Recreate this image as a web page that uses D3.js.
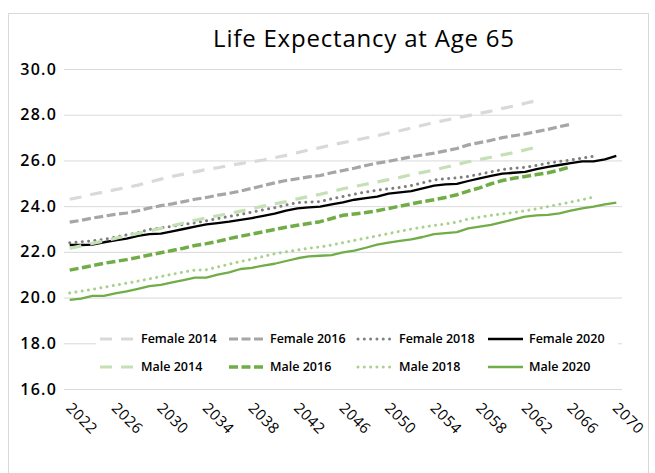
<!DOCTYPE html>
<html>
<head>
<meta charset="utf-8">
<script src="https://cdn.jsdelivr.net/npm/d3@7"></script>
<style>
  body { margin: 0; background: #fff; }
  svg text { font-family: "Open Sans", sans-serif; }
</style>
</head>
<body>
<div id="chart"></div>
<script>
// categories
var years = [2022, 2023, 2024, 2025, 2026, 2027, 2028, 2029, 2030, 2031, 2032, 2033, 2034, 2035, 2036, 2037,
  2038, 2039, 2040, 2041, 2042, 2043, 2044, 2045, 2046, 2047, 2048, 2049, 2050, 2051, 2052, 2053, 2054,
  2055, 2056, 2057, 2058, 2059, 2060, 2061, 2062, 2063, 2064, 2065, 2066, 2067, 2068, 2069, 2070];
var tickYears = [2022, 2026, 2030, 2034, 2038, 2042, 2046, 2050, 2054, 2058, 2062, 2066, 2070];
var yTicks = [16, 18, 20, 22, 24, 26, 28, 30];

// series values (each starts in 2022)
var female2014 = [24.3, 24.4, 24.52, 24.62, 24.72, 24.82, 24.92, 25.05, 25.18, 25.3, 25.4, 25.5, 25.6, 25.68,
  25.78, 25.86, 25.94, 26.02, 26.12, 26.22, 26.34, 26.46, 26.56, 26.68, 26.78, 26.88, 26.98, 27.08, 27.2, 27.3,
  27.42, 27.54, 27.66, 27.76, 27.86, 27.96, 28.06, 28.16, 28.28, 28.38, 28.5, 28.62];
var female2016 = [23.3, 23.38, 23.48, 23.56, 23.64, 23.7, 23.8, 23.92, 24.02, 24.1, 24.2, 24.3, 24.38, 24.48,
  24.56, 24.66, 24.78, 24.9, 25.02, 25.12, 25.2, 25.28, 25.34, 25.46, 25.56, 25.66, 25.78, 25.88, 25.96, 26.06,
  26.16, 26.24, 26.32, 26.42, 26.52, 26.68, 26.78, 26.88, 27.0, 27.08, 27.16, 27.26, 27.36, 27.48, 27.58];
var female2018 = [22.4, 22.44, 22.48, 22.55, 22.64, 22.74, 22.84, 22.98, 23.05, 23.12, 23.2, 23.27, 23.36, 23.46,
  23.55, 23.64, 23.74, 23.84, 23.93, 24.05, 24.15, 24.18, 24.2, 24.32, 24.42, 24.52, 24.62, 24.7, 24.76, 24.82,
  24.9, 25.02, 25.15, 25.2, 25.24, 25.3, 25.4, 25.5, 25.6, 25.66, 25.7, 25.78, 25.88, 25.96, 26.02, 26.1, 26.18];
var female2020 = [22.3, 22.3, 22.32, 22.42, 22.5, 22.58, 22.7, 22.78, 22.8, 22.9, 23.0, 23.1, 23.2, 23.26, 23.32,
  23.4, 23.48, 23.57, 23.67, 23.8, 23.9, 23.95, 23.98, 24.08, 24.17, 24.28, 24.35, 24.42, 24.55, 24.6, 24.66,
  24.78, 24.9, 24.95, 24.97, 25.1, 25.22, 25.32, 25.42, 25.46, 25.5, 25.62, 25.72, 25.8, 25.88, 25.96, 25.96,
  26.05, 26.2];
var male2014 = [22.15, 22.26, 22.37, 22.48, 22.59, 22.7, 22.81, 22.92, 23.03, 23.14, 23.26, 23.38, 23.48, 23.58,
  23.68, 23.78, 23.9, 24.0, 24.1, 24.2, 24.32, 24.42, 24.52, 24.64, 24.76, 24.86, 24.96, 25.06, 25.16, 25.26,
  25.38, 25.48, 25.58, 25.7, 25.82, 25.94, 26.04, 26.14, 26.24, 26.34, 26.46, 26.58];
var male2016 = [21.2, 21.3, 21.4, 21.5, 21.58, 21.66, 21.76, 21.86, 21.96, 22.06, 22.16, 22.28, 22.36, 22.46,
  22.58, 22.68, 22.78, 22.88, 22.98, 23.08, 23.16, 23.24, 23.32, 23.46, 23.6, 23.66, 23.72, 23.8, 23.9, 24.0,
  24.1, 24.2, 24.28, 24.38, 24.5, 24.66, 24.8, 24.98, 25.12, 25.22, 25.3, 25.38, 25.46, 25.58, 25.72];
var male2018 = [20.2, 20.28, 20.36, 20.45, 20.54, 20.63, 20.72, 20.82, 20.92, 21.02, 21.12, 21.2, 21.22, 21.34,
  21.46, 21.58, 21.68, 21.8, 21.92, 22.0, 22.08, 22.16, 22.22, 22.3, 22.4, 22.5, 22.6, 22.7, 22.8, 22.9, 23.0,
  23.08, 23.16, 23.22, 23.3, 23.44, 23.52, 23.6, 23.66, 23.72, 23.8, 23.88, 23.98, 24.08, 24.18, 24.28, 24.4];
var male2020 = [19.9, 19.95, 20.07, 20.07, 20.18, 20.27, 20.38, 20.5, 20.56, 20.66, 20.76, 20.87, 20.87, 21.0,
  21.1, 21.25, 21.3, 21.4, 21.48, 21.6, 21.72, 21.8, 21.83, 21.86, 21.98, 22.05, 22.18, 22.32, 22.4, 22.48,
  22.55, 22.65, 22.78, 22.82, 22.86, 23.03, 23.1, 23.18, 23.3, 23.42, 23.54, 23.6, 23.62, 23.68, 23.8, 23.9,
  23.98, 24.08, 24.15];

var seriesNames = ["Female 2014", "Female 2016", "Female 2018", "Female 2020",
  "Male 2014", "Male 2016", "Male 2018", "Male 2020"];
var seriesValues = [female2014, female2016, female2018, female2020, male2014, male2016, male2018, male2020];

// line look for each series
var styles = [
  { color: "#d9d9d9", width: 3.2, dash: "12 9", cap: "butt" },
  { color: "#a6a6a6", width: 3.2, dash: "9 3.5", cap: "butt" },
  { color: "#7f7f7f", width: 3, dash: "0.01 6.3", cap: "round" },
  { color: "#000000", width: 2.3, dash: null, cap: "butt" },
  { color: "#c5e0b4", width: 3.2, dash: "12 9", cap: "butt" },
  { color: "#70ad47", width: 3.5, dash: "9 3.5", cap: "butt" },
  { color: "#a9d18e", width: 3, dash: "0.01 6.3", cap: "round" },
  { color: "#70ad47", width: 2.3, dash: null, cap: "butt" }
];

var width = 655, height = 473;
var plotLeft = 64, plotRight = 622, plotTop = 69, plotBottom = 389;

var svg = d3.select("#chart").append("svg")
  .attr("width", width)
  .attr("height", height);

svg.append("rect")
  .attr("x", 8.5).attr("y", 13.5)
  .attr("width", 640).attr("height", 470)
  .attr("fill", "#fff")
  .attr("stroke", "#d9d9d9");

svg.append("text")
  .attr("x", 364).attr("y", 47)
  .attr("text-anchor", "middle")
  .style("font-size", "24px")
  .style("font-weight", 500)
  .style("letter-spacing", "0.8px")
  .attr("fill", "#000")
  .text("Life Expectancy at Age 65");

var x = d3.scalePoint().domain(years).range([plotLeft, plotRight]).padding(0.5);
var y = d3.scaleLinear().domain([16, 30]).range([plotBottom, plotTop]);

// y axis + gridlines
var yAxis = svg.append("g")
  .attr("transform", "translate(" + plotLeft + ",0)")
  .call(d3.axisLeft(y).tickValues(yTicks).tickFormat(d3.format(".1f"))
    .tickSize(-(plotRight - plotLeft)).tickPadding(7));
yAxis.select(".domain").remove();
yAxis.selectAll(".tick line").attr("stroke", "#d9d9d9").attr("stroke-width", 1);
yAxis.selectAll(".tick text")
  .attr("fill", "#000")
  .style("font-size", "16px")
  .style("font-weight", 600)
  .style("letter-spacing", "1.2px");

// x axis labels, rotated
var xAxis = svg.append("g")
  .attr("transform", "translate(0," + plotBottom + ")")
  .call(d3.axisBottom(x).tickValues(tickYears).tickSize(0));
xAxis.select(".domain").remove();
xAxis.selectAll(".tick text")
  .attr("fill", "#000")
  .style("font-size", "15px")
  .style("letter-spacing", "0.6px")
  .attr("text-anchor", "start")
  .attr("dy", null)
  .attr("x", -5)
  .attr("y", 20)
  .attr("transform", "rotate(45,-5,20)");

// lines
var line = d3.line()
  .x(function (d, i) { return x(years[i]); })
  .y(function (d) { return y(d); });

var lines = svg.append("g").attr("class", "lines");
seriesValues.forEach(function (vals, k) {
  var s = styles[k];
  lines.append("path")
    .datum(vals)
    .attr("d", line)
    .attr("fill", "none")
    .attr("stroke", s.color)
    .attr("stroke-width", s.width)
    .attr("stroke-dasharray", s.dash)
    .attr("stroke-linecap", s.cap)
    .attr("stroke-linejoin", "round");
});

// legend, two rows of four
var legend = svg.append("g").attr("class", "legend");
legend.append("rect")
  .attr("x", 96).attr("y", 326)
  .attr("width", 522).attr("height", 56)
  .attr("fill", "#fff");

var colX = [100, 229, 358, 488];
var rowY = [339, 367];
seriesNames.forEach(function (name, k) {
  var s = styles[k];
  var lx = colX[k % 4], ly = rowY[Math.floor(k / 4)];
  legend.append("line")
    .attr("x1", lx).attr("x2", lx + 35)
    .attr("y1", ly).attr("y2", ly)
    .attr("stroke", s.color)
    .attr("stroke-width", s.width)
    .attr("stroke-dasharray", s.dash)
    .attr("stroke-linecap", s.cap);
  legend.append("text")
    .attr("x", lx + 41).attr("y", ly)
    .attr("dy", "0.35em")
    .style("font-size", "12.5px")
    .style("font-weight", 600)
    .attr("fill", "#000")
    .text(name);
});
</script>
</body>
</html>
